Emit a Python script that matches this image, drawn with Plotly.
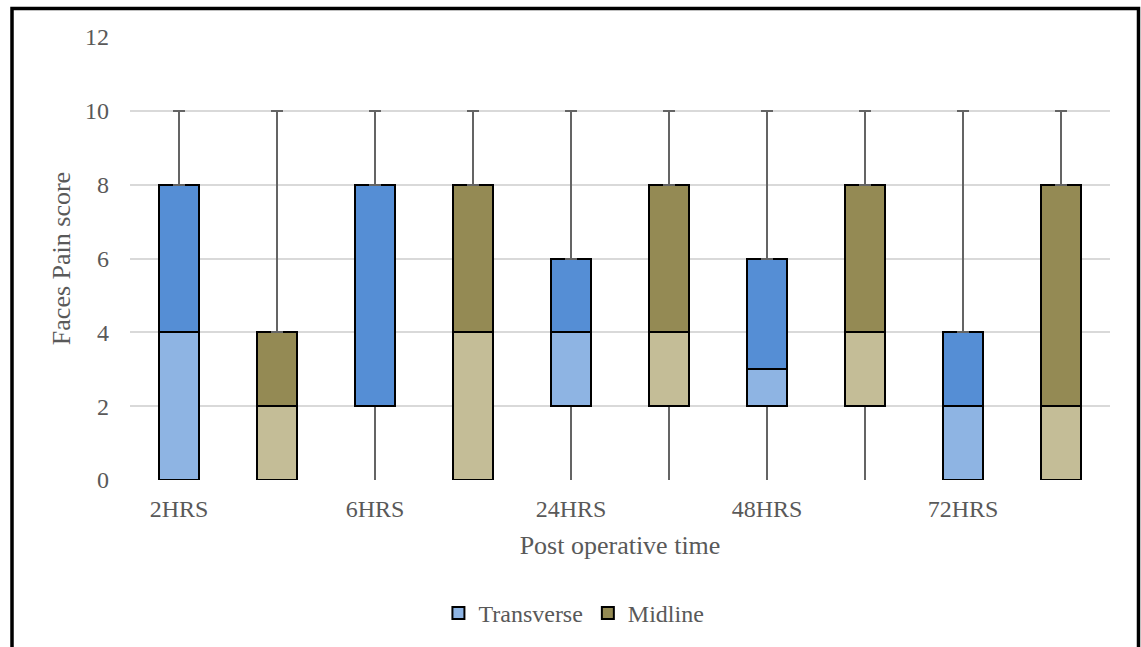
import plotly.graph_objects as go

time_labels = ["2HRS", "6HRS", "24HRS", "48HRS", "72HRS"]
groups = ["Transverse", "Midline"]

# five-number summaries per time point
trans_min = [0, 0, 0, 0, 0]
trans_q1 = [0, 2, 2, 2, 0]
trans_med = [4, 2, 4, 3, 2]
trans_q3 = [8, 8, 6, 6, 4]
trans_max = [10, 10, 10, 10, 10]

mid_min = [0, 0, 0, 0, 0]
mid_q1 = [0, 0, 2, 2, 0]
mid_med = [2, 4, 4, 4, 2]
mid_q3 = [4, 8, 8, 8, 8]
mid_max = [10, 10, 10, 10, 10]

y_ticks = [0, 2, 4, 6, 8, 10, 12]

FONT = "Liberation Serif, Times New Roman, serif"
TXT = "#595959"
WHISK = "#646464"

series = {
    "Transverse": dict(x=[2 * i for i in range(5)], mn=trans_min, q1=trans_q1, med=trans_med,
                       q3=trans_q3, mx=trans_max, light="#8EB4E3", dark="#558ED5", legend_part="lower"),
    "Midline": dict(x=[2 * i + 1 for i in range(5)], mn=mid_min, q1=mid_q1, med=mid_med,
                    q3=mid_q3, mx=mid_max, light="#C4BD97", dark="#948A54", legend_part="upper"),
}

fig = go.Figure()
for name, s in series.items():
    lower = [m - q for m, q in zip(s["med"], s["q1"])]
    upper = [q3 - m for q3, m in zip(s["q3"], s["med"])]
    low_wh = [q - mn for q, mn in zip(s["q1"], s["mn"])]
    up_wh = [mx - q3 for mx, q3 in zip(s["mx"], s["q3"])]
    fig.add_trace(go.Bar(
        x=s["x"], y=s["q1"], marker=dict(color="rgba(0,0,0,0)", line=dict(width=0)),
        error_y=dict(type="data", symmetric=False, array=[0] * 5, arrayminus=low_wh,
                     color=WHISK, thickness=2, width=0),
        showlegend=False, hoverinfo="skip"))
    fig.add_trace(go.Bar(
        x=s["x"], y=lower, name=name, legendgroup=name,
        showlegend=(s["legend_part"] == "lower"),
        marker=dict(color=s["light"], line=dict(color="black", width=2))))
    fig.add_trace(go.Bar(
        x=s["x"], y=upper, name=name, legendgroup=name,
        showlegend=(s["legend_part"] == "upper"),
        marker=dict(color=s["dark"], line=dict(color="black", width=2)),
        error_y=dict(type="data", symmetric=False, array=up_wh, arrayminus=[0] * 5,
                     color=WHISK, thickness=2, width=6)))

fig.update_layout(
    width=1141, height=647,
    barmode="stack", bargap=0.59,
    paper_bgcolor="white", plot_bgcolor="white",
    margin=dict(l=130, r=31, t=37, b=167, autoexpand=False),
    font=dict(family=FONT, color=TXT, size=24),
    xaxis=dict(range=[-0.5, 9.5], tickvals=[0, 2, 4, 6, 8], ticktext=time_labels,
               showgrid=False, zeroline=False, showline=False, ticks="",
               ticklabelstandoff=12,
               tickfont=dict(size=24, color=TXT),
               title=dict(text="Post operative time", font=dict(size=26, color=TXT), standoff=14)),
    yaxis=dict(range=[0, 12], tickvals=y_ticks, showgrid=True, gridcolor="#D9D9D9", gridwidth=1.5,
               zeroline=False, showline=False, ticks="", ticklabelstandoff=20,
               tickfont=dict(size=24, color=TXT),
               title=dict(text="Faces Pain score", font=dict(size=26, color=TXT), standoff=6)),
    legend=dict(orientation="h", xref="container", x=0.503, xanchor="center",
                yref="container", y=0.052, yanchor="middle",
                font=dict(size=24, color=TXT), itemwidth=30, tracegroupgap=0),
    shapes=[dict(type="rect", xref="paper", yref="paper",
                 x0=(12 - 130) / 980, x1=(1138.5 - 130) / 980,
                 y0=(480 - 665) / 443, y1=(480 - 8.5) / 443,
                 line=dict(color="black", width=3.5), fillcolor="rgba(0,0,0,0)", layer="below")],
)

fig.write_html("out.html", config={"displayModeBar": False},
               post_script="document.body.style.margin='0';")
